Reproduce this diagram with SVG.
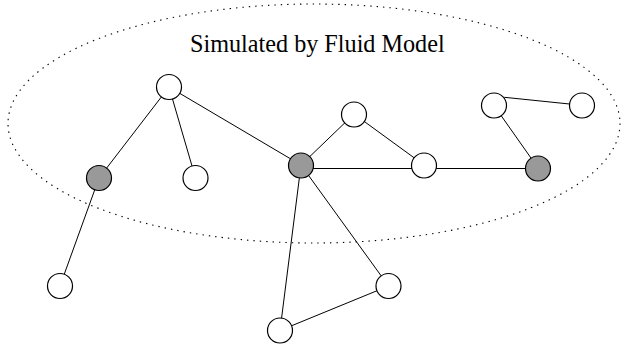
<svg xmlns="http://www.w3.org/2000/svg" width="621" height="349" viewBox="0 0 621 349">
<style>
.edge{stroke:#000;stroke-width:1;fill:none}
.node{stroke:#000;stroke-width:1.2;fill:#fff}
.node.gray{fill:#999}
.region{fill:none;stroke:#000;stroke-width:1.1;stroke-dasharray:1.4 5}
.label{font-family:"Liberation Serif","Times New Roman",serif;font-size:24.2px;fill:#000}
</style>
<rect width="621" height="349" fill="#fff"/>
<g id="region">
<ellipse class="region" cx="314" cy="123.5" rx="306" ry="119.5"/>
<text class="label" x="190" y="52">Simulated by Fluid Model</text>
</g>
<g id="edges">
<line class="edge" x1="169" y1="87" x2="99" y2="178"/>
<line class="edge" x1="169" y1="87" x2="195.5" y2="178"/>
<line class="edge" x1="169" y1="87" x2="301" y2="165"/>
<line class="edge" x1="99" y1="178" x2="60" y2="286"/>
<line class="edge" x1="301" y1="165" x2="354" y2="114"/>
<line class="edge" x1="354" y1="114" x2="424" y2="165"/>
<line class="edge" x1="301" y1="168.5" x2="424" y2="168.5"/>
<line class="edge" x1="424" y1="168.5" x2="538" y2="168.5"/>
<line class="edge" x1="504.3" y1="97.3" x2="569.5" y2="104"/>
<line class="edge" x1="494" y1="105.5" x2="538" y2="168"/>
<line class="edge" x1="301" y1="165" x2="280" y2="330.5"/>
<line class="edge" x1="301" y1="165" x2="388.5" y2="286"/>
<line class="edge" x1="388.5" y1="286" x2="280" y2="330.5"/>
</g>
<g id="n1"><circle class="node" cx="169" cy="87" r="12.5"/></g>
<g id="n2"><circle class="node gray" cx="99" cy="178" r="12.5"/></g>
<g id="n3"><circle class="node" cx="195.5" cy="178" r="12.5"/></g>
<g id="n4"><circle class="node gray" cx="301" cy="165.5" r="12.5"/></g>
<g id="n5"><circle class="node" cx="354" cy="114.5" r="12.5"/></g>
<g id="n6"><circle class="node" cx="424" cy="165.5" r="12.5"/></g>
<g id="n7"><circle class="node" cx="494" cy="105.5" r="12.5"/></g>
<g id="n8"><circle class="node" cx="582" cy="105.5" r="12.5"/></g>
<g id="n9"><circle class="node gray" cx="538" cy="168.5" r="12.5"/></g>
<g id="n10"><circle class="node" cx="60" cy="286" r="12.5"/></g>
<g id="n11"><circle class="node" cx="388.5" cy="286" r="12.5"/></g>
<g id="n12"><circle class="node" cx="280" cy="330.5" r="12.5"/></g>
</svg>
